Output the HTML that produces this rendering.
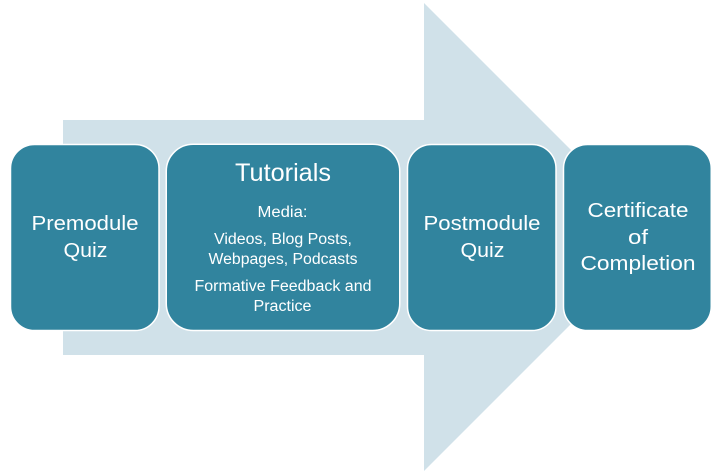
<!DOCTYPE html>
<html><head><meta charset="utf-8"><style>
html,body{margin:0;padding:0;background:#fff}
svg{display:block}
text{font-family:"Liberation Sans",sans-serif;fill:#fff;text-anchor:middle}
</style></head><body>
<svg width="720" height="476" viewBox="0 0 720 476" xmlns="http://www.w3.org/2000/svg">
<polygon points="63,120 424,120 424,3 658,237 424,471 424,355 63,355" fill="#d0e1e9"/>
<g fill="#31849e" stroke="#fff" stroke-width="1.5">
<rect x="10.5" y="144.5" width="148.5" height="186" rx="24"/>
<rect x="166.25" y="144.25" width="233.5" height="186.25" rx="27"/>
<rect x="407.5" y="144.5" width="148.5" height="186" rx="24"/>
<rect x="563.5" y="144.5" width="147.75" height="186" rx="24"/>
</g>
<g font-size="20">
<text x="85" y="230" textLength="107" lengthAdjust="spacingAndGlyphs">Premodule</text>
<text x="85.5" y="257" textLength="44" lengthAdjust="spacingAndGlyphs">Quiz</text>
<text x="482" y="230" textLength="117" lengthAdjust="spacingAndGlyphs">Postmodule</text>
<text x="482.5" y="257" textLength="44" lengthAdjust="spacingAndGlyphs">Quiz</text>
<text x="638" y="217" textLength="101" lengthAdjust="spacingAndGlyphs">Certificate</text>
<text x="638" y="244" textLength="20" lengthAdjust="spacingAndGlyphs">of</text>
<text x="638" y="270" textLength="115" lengthAdjust="spacingAndGlyphs">Completion</text>
</g>
<text x="283" y="181" font-size="25" textLength="96" lengthAdjust="spacingAndGlyphs">Tutorials</text>
<g font-size="15.5">
<text x="282.5" y="217" textLength="50" lengthAdjust="spacingAndGlyphs">Media:</text>
<text x="283" y="244" textLength="138" lengthAdjust="spacingAndGlyphs">Videos, Blog Posts,</text>
<text x="283" y="264" textLength="149" lengthAdjust="spacingAndGlyphs">Webpages, Podcasts</text>
<text x="283" y="291" textLength="177" lengthAdjust="spacingAndGlyphs">Formative Feedback and</text>
<text x="282.5" y="311" textLength="58" lengthAdjust="spacingAndGlyphs">Practice</text>
</g>
</svg>
</body></html>
